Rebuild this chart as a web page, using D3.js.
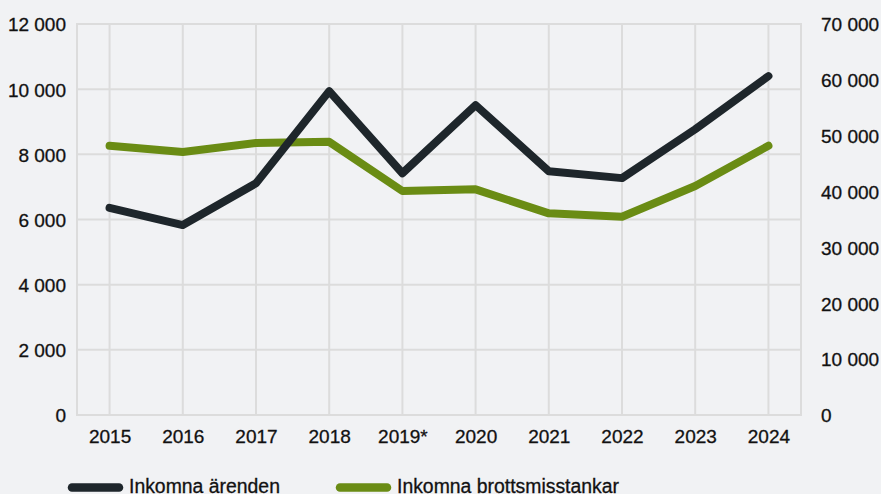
<!DOCTYPE html>
<html><head><meta charset="utf-8">
<script src="https://cdn.jsdelivr.net/npm/d3@7"></script>
<style>
html,body{margin:0;padding:0;background:#f1f2f4;}
svg{display:block;}
text{font-family:"Liberation Sans",Arial,sans-serif;fill:#111;stroke:#111;stroke-width:0.3px;}
</style></head>
<body>
<svg id="c" width="881" height="494"></svg>
<script>
const years = ["2015","2016","2017","2018","2019*","2020","2021","2022","2023","2024"];
const arenden = [6360, 5830, 7110, 9940, 7420, 9510, 7480, 7270, 8770, 10400];
const brottsmisstankar = [48200, 47100, 48700, 48900, 40100, 40400, 36100, 35500, 41000, 48200];
const leftTicks = [0, 2000, 4000, 6000, 8000, 10000, 12000];
const rightTicks = [0, 10000, 20000, 30000, 40000, 50000, 60000, 70000];
const seriesNames = ["Inkomna ärenden", "Inkomna brottsmisstankar"];
const colors = ["#1e262b", "#6a8c14"];

const svg = d3.select("#c");
const L = 77, R = 801, T = 24, B = 415;
const FS = 19;
const x = d3.scalePoint().domain(years).range([L, R]).padding(0.445);
const yL = d3.scaleLinear().domain([0, 12000]).range([B, T]);
const yR = d3.scaleLinear().domain([0, 70000]).range([B, T]);
const fmt = v => d3.format(",")(v).replace(/,/g, " ");
const grid = "#dcdcdc";

const g = svg.append("g");
g.selectAll("line.h").data(leftTicks).join("line")
  .attr("x1", L).attr("x2", R).attr("y1", d => yL(d)).attr("y2", d => yL(d))
  .attr("stroke", grid).attr("stroke-width", 2);
g.selectAll("line.v").data(years).join("line")
  .attr("x1", d => x(d)).attr("x2", d => x(d)).attr("y1", T).attr("y2", B)
  .attr("stroke", grid).attr("stroke-width", 2);
g.selectAll("line.b").data([L, R]).join("line")
  .attr("x1", d => d).attr("x2", d => d).attr("y1", T - 1).attr("y2", B + 1)
  .attr("stroke", grid).attr("stroke-width", 2);

const ax = d3.axisLeft(yL).tickValues(leftTicks).tickFormat(fmt).tickSize(0).tickPadding(11);
svg.append("g").attr("transform", `translate(${L},0)`).call(ax)
  .call(s => s.select(".domain").remove())
  .selectAll("text").attr("font-size", FS).attr("dy", "0.36em").style("fill", "#111");
const axR = d3.axisRight(yR).tickValues(rightTicks).tickFormat(fmt).tickSize(0).tickPadding(20);
svg.append("g").attr("transform", `translate(${R},0)`).call(axR)
  .call(s => s.select(".domain").remove())
  .selectAll("text").attr("font-size", FS).attr("dy", "0.36em").style("fill", "#111");
const axX = d3.axisBottom(x).tickSize(0).tickPadding(15);
svg.append("g").attr("transform", `translate(0,${B})`).call(axX)
  .call(s => s.select(".domain").remove())
  .selectAll("text").attr("font-size", FS).attr("dy", "0.71em").style("fill", "#111");

const lineL = d3.line().x((d, i) => x(years[i])).y(d => yL(d));
const lineR = d3.line().x((d, i) => x(years[i])).y(d => yR(d));
svg.append("path").attr("d", lineR(brottsmisstankar)).attr("fill", "none")
  .attr("stroke", colors[1]).attr("stroke-width", 8).attr("stroke-linecap", "round").attr("stroke-linejoin", "round");
svg.append("path").attr("d", lineL(arenden)).attr("fill", "none")
  .attr("stroke", colors[0]).attr("stroke-width", 8).attr("stroke-linecap", "round").attr("stroke-linejoin", "round");

const legX = [72, 340];
const lg = svg.append("g");
seriesNames.forEach((n, i) => {
  lg.append("line").attr("x1", legX[i]).attr("x2", legX[i] + 47).attr("y1", 487.5).attr("y2", 487.5)
    .attr("stroke", colors[i]).attr("stroke-width", 8.5).attr("stroke-linecap", "round");
  lg.append("text").attr("x", legX[i] + 57).attr("y", 492.5).attr("font-size", 19.4).text(n);
});
</script>
</body></html>
